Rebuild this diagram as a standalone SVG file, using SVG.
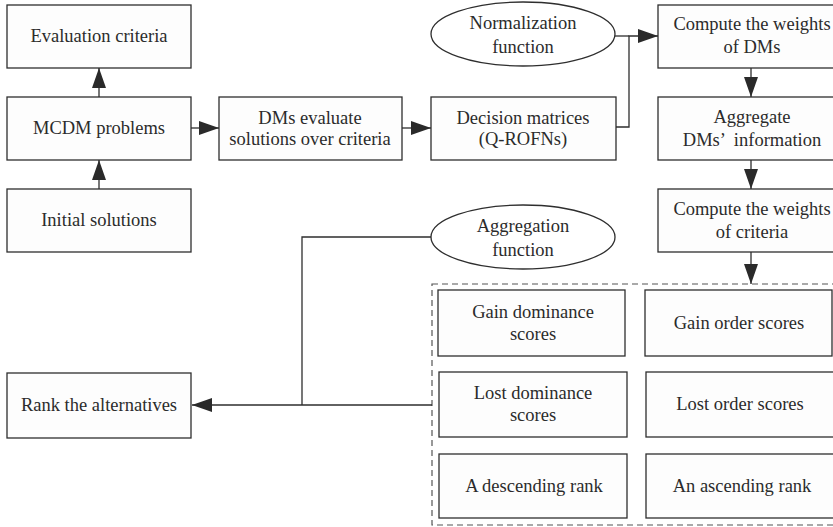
<svg xmlns="http://www.w3.org/2000/svg" width="833" height="527" viewBox="0 0 833 527">
<style>
.box{fill:#fdfdfd;stroke:#2e2e2e;stroke-width:1.3}
.ell{fill:#fff;stroke:#2e2e2e;stroke-width:1.3}
text{font-family:'Liberation Serif','Times New Roman','DejaVu Serif',serif;font-size:18.5px;fill:#2b2b2b;text-anchor:middle;dominant-baseline:central}
.c{fill:none;stroke:#2e2e2e;stroke-width:1.3}
.dash{fill:none;stroke:#555;stroke-width:1.2;stroke-dasharray:6 4}
</style>
<defs>
<marker id="ah" viewBox="0 0 20 14" refX="20" refY="7" markerWidth="20" markerHeight="14" markerUnits="userSpaceOnUse" orient="auto">
<path d="M0,0 L20,7 L0,14 Z" fill="#2a2a2a"/>
</marker>
</defs>
<rect width="833" height="527" fill="#fff"/>

<g id="dashed-group">
<rect class="dash" x="432" y="284" width="410" height="241"/>
</g>

<g id="evaluation-criteria"><rect class="box" x="7" y="5" width="184" height="63"/><text x="99" y="36">Evaluation criteria</text></g>
<g id="mcdm-problems"><rect class="box" x="7" y="97" width="184" height="63"/><text x="99" y="128">MCDM problems</text></g>
<g id="initial-solutions"><rect class="box" x="7" y="189" width="184" height="63"/><text x="99" y="220">Initial solutions</text></g>
<g id="dms-evaluate"><rect class="box" x="219" y="97" width="183" height="63"/><text x="310" y="118">DMs evaluate</text><text x="310" y="139">solutions over criteria</text></g>
<g id="decision-matrices"><rect class="box" x="431" y="97" width="185" height="63"/><text x="523" y="118">Decision matrices</text><text x="523" y="139">(Q-ROFNs)</text></g>
<g id="normalization-function"><ellipse class="ell" cx="523" cy="34" rx="92" ry="32"/><text x="523" y="23">Normalization</text><text x="523" y="47">function</text></g>
<g id="compute-weights-dms"><rect class="box" x="658" y="5" width="190" height="63"/><text x="752" y="24">Compute the weights</text><text x="752" y="47">of DMs</text></g>
<g id="aggregate"><rect class="box" x="658" y="97" width="190" height="63"/><text x="752" y="117">Aggregate</text><text x="752" y="140" xml:space="preserve">DMs’  information</text></g>
<g id="compute-weights-criteria"><rect class="box" x="658" y="189" width="190" height="63"/><text x="752" y="209">Compute the weights</text><text x="752" y="232">of criteria</text></g>
<g id="aggregation-function"><ellipse class="ell" cx="523" cy="237" rx="92" ry="32"/><text x="523" y="226">Aggregation</text><text x="523" y="250">function</text></g>
<g id="rank-alternatives"><rect class="box" x="7" y="373" width="184" height="65"/><text x="99" y="405">Rank the alternatives</text></g>

<g id="gain-dominance"><rect class="box" x="438" y="290" width="187" height="66"/><text x="533" y="312">Gain dominance</text><text x="533" y="334">scores</text></g>
<g id="gain-order"><rect class="box" x="645" y="290" width="187" height="66"/><text x="739" y="323">Gain order scores</text></g>
<g id="lost-dominance"><rect class="box" x="439" y="372" width="188" height="65"/><text x="533" y="393">Lost dominance</text><text x="533" y="415">scores</text></g>
<g id="lost-order"><rect class="box" x="646" y="372" width="192" height="65"/><text x="740" y="404">Lost order scores</text></g>
<g id="descending-rank"><rect class="box" x="439" y="454" width="188" height="64"/><text x="534" y="486">A descending rank</text></g>
<g id="ascending-rank"><rect class="box" x="646" y="454" width="192" height="64"/><text x="742" y="486">An ascending rank</text></g>

<g id="connectors">
<path class="c" d="M99,97 V68" marker-end="url(#ah)"/>
<path class="c" d="M99,189 V160" marker-end="url(#ah)"/>
<path class="c" d="M191,128 H219" marker-end="url(#ah)"/>
<path class="c" d="M402,128 H431" marker-end="url(#ah)"/>
<path class="c" d="M615,36 H629"/>
<path class="c" d="M616,127 H629 V36 H658" marker-end="url(#ah)"/>
<path class="c" d="M751,68 V97" marker-end="url(#ah)"/>
<path class="c" d="M751,160 V189" marker-end="url(#ah)"/>
<path class="c" d="M751,252 V284" marker-end="url(#ah)"/>
<path class="c" d="M431,237 H302 V405"/>
<path class="c" d="M432,405 H192" marker-end="url(#ah)"/>
</g>
</svg>
